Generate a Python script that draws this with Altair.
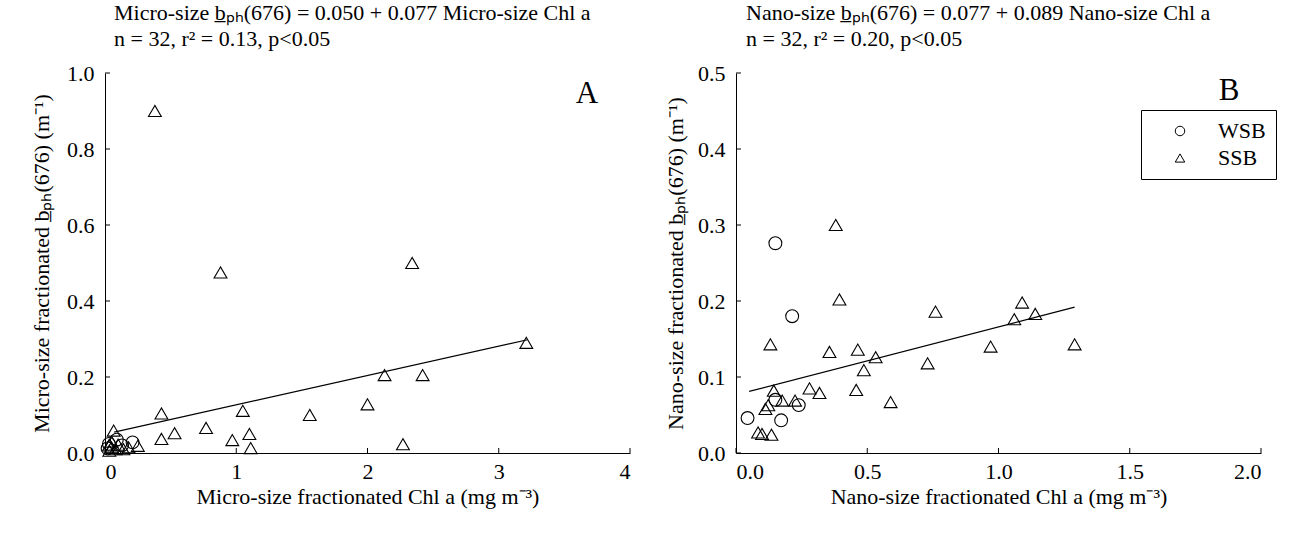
import altair as alt
import pandas as pd

FONT = "Liberation Serif"
FS = 22
W, H = 525, 380

# ---------------- Panel A data ----------------
a_wsb_x = [0.03, 0.21, 0.09, 0.02, 0.13]
a_wsb_y = [0.024, 0.028, 0.035, 0.012, 0.020]
a_ssb_x = [0.38, 0.88, 2.34, 3.21, 2.13, 2.42, 2.00, 1.56, 2.27,
           0.43, 0.43, 0.53, 0.77, 1.05, 0.97, 1.10, 1.11,
           0.066, 0.05, 0.14, 0.25, 0.033, 0.05, 0.10, 0.18, 0.03, 0.08]
a_ssb_y = [0.900, 0.475, 0.500, 0.290, 0.205, 0.205, 0.128, 0.100, 0.023,
           0.104, 0.037, 0.052, 0.066, 0.111, 0.034, 0.050, 0.013,
           0.059, 0.015, 0.010, 0.019, 0.006, 0.030, 0.022, 0.015, 0.020, 0.010]
a_line_x = [0.07, 3.22]
a_line_y = [0.055, 0.298]
a_xticks = [0, 1, 2, 3, 4]
a_yticks = [0.0, 0.2, 0.4, 0.6, 0.8, 1.0]

# ---------------- Panel B data ----------------
b_wsb_x = [0.044, 0.214, 0.172, 0.239, 0.150, 0.150]
b_wsb_y = [0.046, 0.180, 0.043, 0.063, 0.276, 0.070]
b_ssb_x = [0.131, 0.356, 0.464, 0.532, 0.487, 0.458, 0.589, 0.280, 0.318,
           0.225, 0.176, 0.144, 0.123, 0.112, 0.084, 0.099, 0.135, 0.394,
           0.380, 0.760, 0.730, 0.970, 1.060, 1.090, 1.140, 1.290]
b_ssb_y = [0.143, 0.133, 0.136, 0.126, 0.109, 0.083, 0.067, 0.085, 0.079,
           0.069, 0.069, 0.082, 0.063, 0.058, 0.027, 0.025, 0.024, 0.202,
           0.300, 0.186, 0.118, 0.140, 0.176, 0.198, 0.183, 0.143]
b_line_x = [0.05, 1.29]
b_line_y = [0.081, 0.192]
b_xticks = [0.0, 0.5, 1.0, 1.5, 2.0]
b_yticks = [0.0, 0.1, 0.2, 0.3, 0.4, 0.5]

groups = ["WSB", "SSB"]


def panel(wsb_x, wsb_y, ssb_x, ssb_y, line_x, line_y, xticks, yticks,
          xfmt, yfmt, xtitle, ytitle, title_lines, title_dx, letter,
          letter_x, letter_y, legend, ylabpad, ytitpad):
    pts = pd.DataFrame({
        "x": wsb_x + ssb_x,
        "y": wsb_y + ssb_y,
        "g": ["WSB"] * len(wsb_x) + ["SSB"] * len(ssb_x),
    })
    xs = alt.Scale(domain=[xticks[0], xticks[-1]], nice=False, zero=False)
    ys = alt.Scale(domain=[yticks[0], yticks[-1]], nice=False, zero=False)
    xaxis = alt.Axis(values=xticks, format=xfmt, ticks=False, grid=False,
                     title=xtitle, labelPadding=8, titlePadding=4)
    yaxis = alt.Axis(values=yticks, format=yfmt, ticks=False, grid=False,
                     title=ytitle, labelPadding=ylabpad, titlePadding=ytitpad)

    points = alt.Chart(pts).mark_point(filled=False, color="black",
                                       strokeWidth=1.1, opacity=1,
                                       size=165).encode(
        x=alt.X("x:Q", scale=xs, axis=xaxis),
        y=alt.Y("y:Q", scale=ys, axis=yaxis),
        shape=alt.Shape("g:N", scale=alt.Scale(domain=groups,
                                               range=["circle", "triangle-up"]),
                        legend=legend),
    )
    ln = alt.Chart(pd.DataFrame({"x": line_x, "y": line_y})).mark_line(
        color="black", strokeWidth=1.2).encode(
        x=alt.X("x:Q", scale=xs), y=alt.Y("y:Q", scale=ys))
    ytk = alt.Chart(pd.DataFrame({"v": yticks})).mark_rule(
        color="black", strokeWidth=1).encode(
        y=alt.Y("v:Q", scale=ys), x=alt.value(0), x2=alt.value(5))
    xtk = alt.Chart(pd.DataFrame({"v": xticks})).mark_rule(
        color="black", strokeWidth=1).encode(
        x=alt.X("v:Q", scale=xs), y=alt.value(H), y2=alt.value(H - 5))
    let = alt.Chart(pd.DataFrame({"t": [letter]})).mark_text(
        font=FONT, fontSize=31, color="black", align="center",
        baseline="middle").encode(text="t:N", x=alt.value(letter_x),
                                  y=alt.value(letter_y))
    return alt.layer(ln, ytk, xtk, points, let).properties(
        width=W, height=H,
        title=alt.TitleParams(text=title_lines, anchor="start", frame="group",
                              dx=title_dx, font=FONT, fontSize=FS,
                              fontWeight="normal", lineHeight=26, offset=11,
                              color="black"),
    )


chartA = panel(a_wsb_x, a_wsb_y, a_ssb_x, a_ssb_y, a_line_x, a_line_y,
               a_xticks, a_yticks, "d", ".1f",
               "Micro-size fractionated Chl a (mg m\u207b\u00b3)",
               "Micro-size fractionated b\u0332\u209a\u2095(676) (m\u207b\u00b9)",
               ["Micro-size b\u0332\u209a\u2095(676) = 0.050 + 0.077 Micro-size Chl a",
                "n = 32,  r\u00b2 = 0.13,  p<0.05"], 9, "A", 482, 21, None,
               11, 13)

legendB = alt.Legend(title=None, orient="none", legendX=405, legendY=37,
                     strokeColor="black", fillColor="white", padding=10,
                     labelFont=FONT, labelFontSize=FS, labelColor="black",
                     symbolSize=90, symbolStrokeWidth=1,
                     symbolStrokeColor="black", symbolFillColor="white",
                     symbolType="circle",
                     rowPadding=5, symbolOffset=18, labelOffset=27)

chartB = panel(b_wsb_x, b_wsb_y, b_ssb_x, b_ssb_y, b_line_x, b_line_y,
               b_xticks, b_yticks, ".1f", ".1f",
               "Nano-size fractionated Chl a (mg m\u207b\u00b3)",
               "Nano-size fractionated b\u0332\u209a\u2095(676) (m\u207b\u00b9)",
               ["Nano-size b\u0332\u209a\u2095(676) = 0.077 + 0.089 Nano-size Chl a",
                "n = 32,  r\u00b2 = 0.20,  p<0.05"], 10, "B", 493, 18, legendB,
               11, 10)

chart = alt.hconcat(chartA, chartB, spacing=33).resolve_scale(
    shape="independent").resolve_legend(
    shape="independent").properties(
    padding={"left": 30, "top": 2, "right": 5, "bottom": 5},
    background="white",
).configure_view(stroke=None).configure_axis(
    labelFont=FONT, labelFontSize=FS, labelColor="black",
    titleFont=FONT, titleFontSize=FS, titleFontWeight="normal",
    titleColor="black", domainColor="black", domainWidth=1,
)

chart.save("out.html", embed_options={"renderer": "svg", "actions": False})
